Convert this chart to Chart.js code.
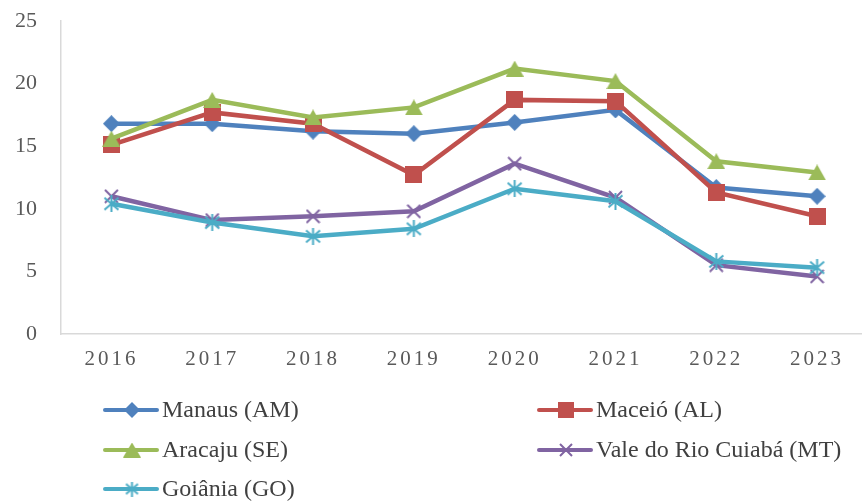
<!DOCTYPE html>
<html>
<head>
<meta charset="utf-8">
<script src="https://cdn.jsdelivr.net/npm/chart.js@4.4.1/dist/chart.umd.min.js"></script>
<style>
  html, body { margin: 0; padding: 0; background: #fff; overflow: hidden; }
  #wrap { width: 880px; height: 501px; }
</style>
</head>
<body>
<div id="wrap"><canvas id="chart" width="880" height="501"></canvas></div>
<script>
const years = ['2016', '2017', '2018', '2019', '2020', '2021', '2022', '2023'];
const seriesNames = ['Manaus (AM)', 'Maceió (AL)', 'Aracaju (SE)', 'Vale do Rio Cuiabá (MT)', 'Goiânia (GO)'];
const manaus = [16.8, 16.8, 16.2, 16.0, 16.9, 17.9, 11.7, 11.0];
const maceio = [15.1, 17.7, 16.8, 12.7, 18.7, 18.6, 11.3, 9.4];
const aracaju = [15.6, 18.7, 17.3, 18.1, 21.2, 20.2, 13.8, 12.9];
const cuiaba = [11.0, 9.1, 9.4, 9.8, 13.6, 10.9, 5.5, 4.6];
const goiania = [10.4, 8.9, 7.8, 8.4, 11.6, 10.6, 5.8, 5.3];
const yTicks = [0, 5, 10, 15, 20, 25];

const colors = ['#4F81BD', '#C0504D', '#9BBB59', '#8064A2', '#4BACC6'];
const kinds = ['diamond', 'square', 'triangle', 'x', 'asterisk'];

// small canvases used as point styles (chart + legend)
function makeMarker(kind, color, w, h) {
    const c = document.createElement('canvas');
    c.width = w; c.height = h;
    const g = c.getContext('2d');
    g.fillStyle = color;
    g.strokeStyle = color;
    g.lineWidth = 2;
    g.beginPath();
    if (kind === 'diamond') {
        g.moveTo(w / 2, 0); g.lineTo(w, h / 2); g.lineTo(w / 2, h); g.lineTo(0, h / 2);
        g.closePath(); g.fill();
    } else if (kind === 'square') {
        g.fillRect(0, 0, w, h);
    } else if (kind === 'triangle') {
        g.moveTo(w / 2, 0); g.lineTo(w, h); g.lineTo(0, h);
        g.closePath(); g.fill();
    } else if (kind === 'x') {
        g.moveTo(1, 1); g.lineTo(w - 1, h - 1);
        g.moveTo(w - 1, 1); g.lineTo(1, h - 1);
        g.stroke();
    } else {
        g.moveTo(w / 2, 0); g.lineTo(w / 2, h);
        g.moveTo(1.5, 2.5); g.lineTo(w - 1.5, h - 2.5);
        g.moveTo(w - 1.5, 2.5); g.lineTo(1.5, h - 2.5);
        g.stroke();
    }
    return c;
}

const chartSizes = { diamond: [17, 17], square: [17, 17], triangle: [18, 16], x: [15, 15], asterisk: [17, 17] };
const legendSizes = { diamond: [16, 16], square: [16, 16], triangle: [18, 15], x: [14, 14], asterisk: [15, 15] };

const allData = [manaus, maceio, aracaju, cuiaba, goiania];

const datasets = allData.map((d, i) => {
    const sz = chartSizes[kinds[i]];
    return {
        label: seriesNames[i],
        data: d,
        borderColor: colors[i],
        backgroundColor: colors[i],
        borderWidth: 4.5,
        tension: 0,
        pointStyle: makeMarker(kinds[i], colors[i], sz[0], sz[1]),
        pointRadius: 8,
        order: 4 - i
    };
});

const legendPlugin = {
    id: 'gridLegend',
    afterDraw(chart) {
        const ctx = chart.ctx;
        const cols = [103, 537];
        const rows = [410, 450, 489];
        ctx.save();
        ctx.font = '24px "Liberation Serif", "Times New Roman", serif';
        ctx.textBaseline = 'middle';
        ctx.fillStyle = '#404040';
        seriesNames.forEach((name, i) => {
            const x = cols[i % 2];
            const y = rows[Math.floor(i / 2)];
            ctx.strokeStyle = colors[i];
            ctx.lineWidth = 4;
            ctx.lineCap = 'round';
            ctx.beginPath();
            ctx.moveTo(x + 2, y);
            ctx.lineTo(x + 54, y);
            ctx.stroke();
            const sz = legendSizes[kinds[i]];
            const m = makeMarker(kinds[i], colors[i], sz[0], sz[1]);
            ctx.drawImage(m, x + 29 - sz[0] / 2, y - sz[1] / 2);
            ctx.fillText(name, x + 59, y + 1);
        });
        ctx.restore();
    },
    afterLayout(chart) {
        const xs = chart.scales.x;
        if (xs && !xs._spaced) {
            const orig = xs.drawLabels.bind(xs);
            xs.drawLabels = function (area) {
                this.ctx.save();
                this.ctx.letterSpacing = '3px';
                orig(area);
                this.ctx.restore();
            };
            xs._spaced = true;
        }
    }
};

new Chart(document.getElementById('chart'), {
    type: 'line',
    data: { labels: years, datasets: datasets },
    options: {
        responsive: false,
        animation: false,
        layout: { padding: { top: 21, right: 5, bottom: 130, left: 0 } },
        plugins: { legend: { display: false }, tooltip: { enabled: false } },
        scales: {
            x: {
                offset: true,
                grid: { display: false, drawTicks: false },
                border: { display: true, color: '#D9D9D9', width: 1.5 },
                ticks: {
                    padding: 13,
                    color: '#595959',
                    font: { family: '"Liberation Serif", "Times New Roman", serif', size: 21 }
                },
                afterFit(scale) { scale.height = 37; }
            },
            y: {
                min: 0,
                max: 25,
                grid: { display: false, drawTicks: false },
                border: { display: true, color: '#D9D9D9', width: 1.5 },
                afterBuildTicks(scale) { scale.ticks = yTicks.map(v => ({ value: v })); },
                ticks: {
                    padding: 24,
                    color: '#595959',
                    font: { family: '"Liberation Serif", "Times New Roman", serif', size: 22 }
                },
                afterFit(scale) {
                    scale.width = 61;
                    scale.paddingTop = 0;
                    scale.paddingBottom = 0;
                }
            }
        }
    },
    plugins: [legendPlugin]
});
</script>
</body>
</html>
